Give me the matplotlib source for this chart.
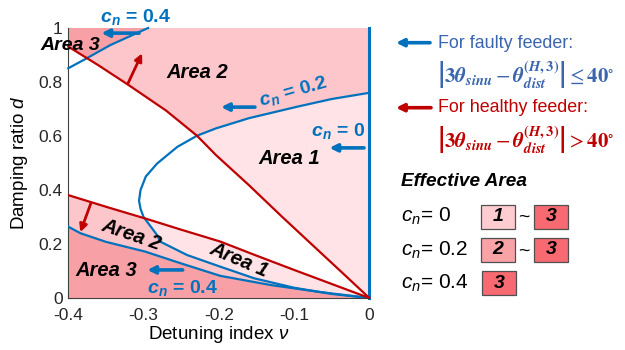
import matplotlib

matplotlib.use("Agg")
import matplotlib.pyplot as plt
from matplotlib.patches import Rectangle

plt.rcParams["font.family"] = ["Liberation Sans", "DejaVu Sans"]
plt.rcParams["mathtext.fontset"] = "custom"
plt.rcParams["mathtext.rm"] = "Liberation Sans"
plt.rcParams["mathtext.it"] = "Liberation Sans:italic"
plt.rcParams["mathtext.bf"] = "Liberation Sans:bold"
plt.rcParams["mathtext.bfit"] = "Liberation Sans:bold:italic"

# boundary curves in the (nu, d) plane
red_up_x = [-0.40, -0.36, -0.32, -0.27, -0.229, -0.204, -0.16, -0.116, -0.072, -0.028, 0.0]
red_up_y = [0.931, 0.862, 0.789, 0.694, 0.601, 0.530, 0.418, 0.301, 0.187, 0.073, 0.0]

red_lo_x = [-0.40, -0.35, -0.296, -0.25, -0.198, -0.15, -0.10, -0.05, 0.0]
red_lo_y = [0.381, 0.338, 0.293, 0.253, 0.209, 0.157, 0.104, 0.052, 0.0]

c02_x = [0.0, -0.05, -0.095, -0.16, -0.204, -0.229, -0.255, -0.282, -0.297, -0.304,
         -0.306, -0.304, -0.300, -0.282, -0.278, -0.242, -0.198, -0.153, -0.10, -0.05, 0.0]
c02_y = [0.760, 0.737, 0.709, 0.666, 0.628, 0.601, 0.560, 0.498, 0.450, 0.400,
         0.360, 0.330, 0.300, 0.233, 0.209, 0.159, 0.116, 0.073, 0.038, 0.015, 0.0]

c04_lo_x = [-0.40, -0.384, -0.35, -0.298, -0.25, -0.198, -0.131, -0.065, 0.0]
c04_lo_y = [0.264, 0.240, 0.208, 0.172, 0.128, 0.082, 0.048, 0.022, 0.0]

c04_up_x = [-0.40, -0.378, -0.344, -0.294]
c04_up_y = [0.851, 0.884, 0.937, 1.0]

c00_x = [0.0, 0.0]
c00_y = [0.0, 1.0]

x_ticks = [-0.4, -0.3, -0.2, -0.1, 0]
y_ticks = [0, 0.2, 0.4, 0.6, 0.8, 1]

area_colors = {"1": "#FFE3E6", "2": "#FDC6CA", "3": "#F7A1A6"}
legend_colors = {"1": "#FFCDD0", "2": "#F9A3A6", "3": "#F76A71"}
legend_rows = [("0", ["1", "3"]), ("0.2", ["2", "3"]), ("0.4", ["3"])]

BLUE = "#0072BD"
RED = "#C00000"

fig = plt.figure(figsize=(6.25, 3.5), dpi=100)
ax = fig.add_axes([68.3 / 625, 52 / 350, 301 / 625, 270 / 350])

# region fills: area 3 everywhere, area 2 inside the c_n=0.4 band,
# area 1 inside the c_n=0.2 loop, white between the two red boundaries
ax.fill([-0.4, 0, 0, -0.4], [0, 0, 1, 1], color=area_colors["3"], lw=0, zorder=1)
ax.fill(c04_lo_x + [0.0] + c04_up_x[::-1], c04_lo_y + [1.0] + c04_up_y[::-1],
        color=area_colors["2"], lw=0, zorder=1)
ax.fill(c02_x, c02_y, color=area_colors["1"], lw=0, zorder=1)
ax.fill(red_up_x + red_lo_x[::-1], red_up_y + red_lo_y[::-1], color="white", lw=0, zorder=1)

ax.plot(c04_up_x, c04_up_y, color=BLUE, lw=1.6, zorder=3, clip_on=False)
ax.plot(c04_lo_x, c04_lo_y, color=BLUE, lw=1.6, zorder=3)
ax.plot(c02_x, c02_y, color=BLUE, lw=1.6, zorder=3)
ax.plot(c00_x, c00_y, color=BLUE, lw=2.2, zorder=3, clip_on=False)
ax.plot(red_up_x, red_up_y, color=RED, lw=1.6, zorder=4, clip_on=False)
ax.plot(red_lo_x, red_lo_y, color=RED, lw=1.6, zorder=4)

ax.set_xlim(-0.4, 0)
ax.set_ylim(0, 1)
ax.set_xticks(x_ticks)
ax.set_xticklabels(["-0.4", "-0.3", "-0.2", "-0.1", "0"])
ax.set_yticks(y_ticks)
ax.set_yticklabels(["0", "0.2", "0.4", "0.6", "0.8", "1"])
ax.tick_params(direction="in", length=3, labelsize=12.5, colors="#262626", pad=4)
ax.tick_params(axis="x", pad=7)
ax.grid(True, color="#E3E3E3", lw=0.9)
ax.set_axisbelow(True)
for side in ("top", "right"):
    ax.spines[side].set_visible(False)
for side in ("left", "bottom"):
    ax.spines[side].set_color("#404040")
    ax.spines[side].set_linewidth(0.8)
ax.set_xlabel(r"Detuning index $\nu$", fontsize=13.5, labelpad=1)
ax.set_ylabel(r"Damping ratio $d$", fontsize=13.5, labelpad=6)


def arrow(axis, tail, head, color, lw=2.6):
    axis.annotate("", xy=head, xytext=tail, annotation_clip=False,
                  arrowprops=dict(arrowstyle="-|>", color=color, lw=lw,
                                  mutation_scale=11, shrinkA=0, shrinkB=0), zorder=6)


area_kw = dict(fontsize=14.5, fontweight="bold", style="italic", ha="center", va="center", zorder=6)
cn_kw = dict(fontsize=14, fontweight="bold", color=BLUE, ha="center", va="center", zorder=6)
cn = r"$\mathbfit{c}_{\mathbfit{n}}$ = "

ax.text(-0.311, 1.042, cn + "0.4", **cn_kw)
arrow(ax, (-0.306, 0.981), (-0.356, 0.981), BLUE)
ax.text(-0.397, 0.935, "Area 3", **dict(area_kw, fontsize=14))
arrow(ax, (-0.321, 0.793), (-0.302, 0.906), RED, lw=2.0)
ax.text(-0.228, 0.837, "Area 2", **area_kw)
ax.text(-0.101, 0.763, cn + "0.2", rotation=16, **cn_kw)
arrow(ax, (-0.152, 0.707), (-0.197, 0.707), BLUE)
ax.text(-0.042, 0.619, cn + "0", **cn_kw)
arrow(ax, (-0.007, 0.556), (-0.053, 0.556), BLUE)
ax.text(-0.107, 0.515, "Area 1", **area_kw)
arrow(ax, (-0.370, 0.351), (-0.384, 0.244), RED, lw=2.0)
ax.text(-0.316, 0.233, "Area 2", rotation=-19, **area_kw)
ax.text(-0.173, 0.141, "Area 1", rotation=-23, **area_kw)
ax.text(-0.350, 0.100, "Area 3", **area_kw)
arrow(ax, (-0.248, 0.104), (-0.295, 0.104), BLUE)
ax.text(-0.248, 0.037, cn + "0.4", **cn_kw)

# annotation panel on the right, laid out in pixel units
pan = fig.add_axes([0, 0, 1, 1], facecolor="none")
pan.set_xlim(0, 625)
pan.set_ylim(350, 0)
pan.axis("off")

arrow(pan, (430, 42.7), (396, 42.7), BLUE)
pan.text(438, 43, "For faulty feeder:", fontsize=12.9, color="#3B65AE", va="center")
formula = (r"$\left|\mathbf{3}\mathbfit{\theta}_{\mathbfit{sinu}}-"
           r"\mathbfit{\theta}_{\mathbfit{dist}}^{\mathbf{(}\mathbfit{H}\mathbf{,3)}}\right|")
pan.text(437, 75, formula + r"\leq\mathbf{40}^{\circ}$", fontsize=15, color="#3B65AE",
         va="center", math_fontfamily="stix")
arrow(pan, (431, 107.7), (396, 107.7), RED)
pan.text(438, 108, "For healthy feeder:", fontsize=12.9, color=RED, va="center")
pan.text(437, 140, formula + r">\mathbf{40}^{\circ}$", fontsize=15, color=RED,
         va="center", math_fontfamily="stix")

pan.text(401, 181, "Effective Area", fontsize=13.7, fontweight="bold", style="italic", va="center")
row_y = [216.7, 250, 283.3]
box_x = [481, 534]
for (cval, areas), yc in zip(legend_rows, row_y):
    pan.text(401, yc, r"$c_n$= " + cval, fontsize=15, va="center")
    for i, a in enumerate(areas):
        x0 = box_x[i] if len(areas) > 1 else 482
        pan.add_patch(Rectangle((x0, yc - 12), 34, 24, facecolor=legend_colors[a],
                                edgecolor="#505050", lw=0.9))
        pan.text(x0 + 17, yc, a, fontsize=14, fontweight="bold", style="italic",
                 ha="center", va="center")
    if len(areas) > 1:
        pan.text(524, yc + 1, "~", fontsize=14, ha="center", va="center")

fig.savefig("out.png", dpi=100)
